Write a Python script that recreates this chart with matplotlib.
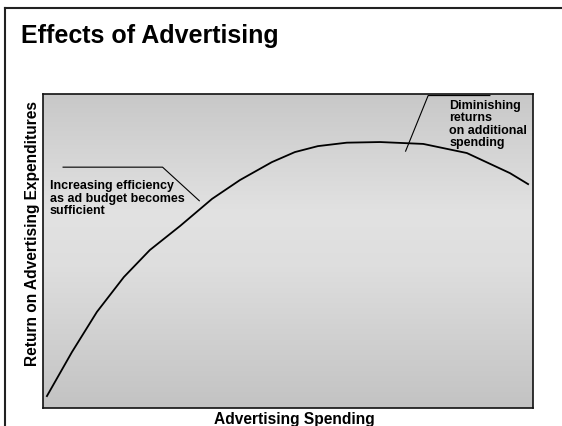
import matplotlib
matplotlib.use("Agg")
import matplotlib.pyplot as plt
import numpy as np
from matplotlib.lines import Line2D

plt.rcParams['font.family'] = ['Liberation Sans', 'DejaVu Sans']

# curve data (arbitrary units)
spend = [0.08, 0.59, 1.10, 1.65, 2.18, 2.80, 3.45, 4.02, 4.67, 5.14, 5.61, 6.20, 6.88, 7.76, 8.65, 9.53, 9.90]
ret   = [0.38, 1.78, 3.06, 4.17, 5.03, 5.80, 6.66, 7.26, 7.83, 8.15, 8.34, 8.45, 8.47, 8.41, 8.12, 7.48, 7.13]

title = "Effects of Advertising"
xlabel = "Advertising Spending"
ylabel = "Return on Advertising Expenditures"
left_note = ["Increasing efficiency", "as ad budget becomes", "sufficient"]
right_note = ["Diminishing", "returns", "on additional", "spending"]

W, H, DPI = 562, 426, 100
fig = plt.figure(figsize=(W / DPI, H / DPI), dpi=DPI)
fig.patch.set_facecolor('white')

# slide frame (left and top)
fig.add_artist(Line2D([5 / W, 5 / W], [0, 1 - 8 / H], color='#222222', lw=1.5))
fig.add_artist(Line2D([5 / W, 1], [1 - 8 / H, 1 - 8 / H], color='#222222', lw=1.5))

L, R, T, B = 43, 533, 94, 408
ax = fig.add_axes([L / W, 1 - B / H, (R - L) / W, (B - T) / H])
ax.set_xlim(0, 10)
ax.set_ylim(0, 10)

# vertical gradient background
stops_y = np.array([0.0, 0.45, 0.62, 1.0])  # from bottom
stops_v = np.array([195, 222, 226, 200]) / 255.0
yy = np.linspace(0, 1, 256)
vals = np.interp(yy, stops_y, stops_v)
img = np.repeat(vals[:, None], 2, axis=1)
img = np.dstack([img, img, img])
ax.imshow(img, extent=[0, 10, 0, 10], origin='lower', aspect='auto', zorder=0)

ax.plot(spend, ret, color='black', lw=1.3, zorder=3)

# leader lines
ax.plot([0.41, 2.44, 3.19], [7.67, 7.67, 6.60], color='black', lw=0.8, zorder=3)
ax.plot([9.12, 7.86, 7.40], [9.95, 9.95, 8.18], color='black', lw=0.8, zorder=3)

fs_note = 9
step = 12.4 * 72 / DPI
for i, line in enumerate(left_note):
    ax.annotate(line, xy=(0.14, 6.97), xytext=(0, -i * step), textcoords='offset points',
                fontsize=fs_note, fontweight='bold', va='baseline', ha='left', zorder=4)
for i, line in enumerate(right_note):
    ax.annotate(line, xy=(8.29, 9.51), xytext=(0, -i * 12.1 * 72 / DPI), textcoords='offset points',
                fontsize=fs_note, fontweight='bold', va='baseline', ha='left', zorder=4)

ax.set_xticks([])
ax.set_yticks([])
for s in ax.spines.values():
    s.set_color('#111111')
    s.set_linewidth(1.2)

fig.text(20.7 / W, 1 - 43.3 / H, title, fontsize=18, fontweight='bold', ha='left', va='baseline')
fig.text(294 / W, 1 - 424 / H, xlabel, fontsize=11.2, fontweight='bold', ha='center', va='baseline')
fig.text(32.5 / W, 1 - 233 / H, ylabel, fontsize=11.2, fontweight='bold', ha='center', va='center',
         rotation=90)

fig.savefig('out.png', dpi=DPI)
